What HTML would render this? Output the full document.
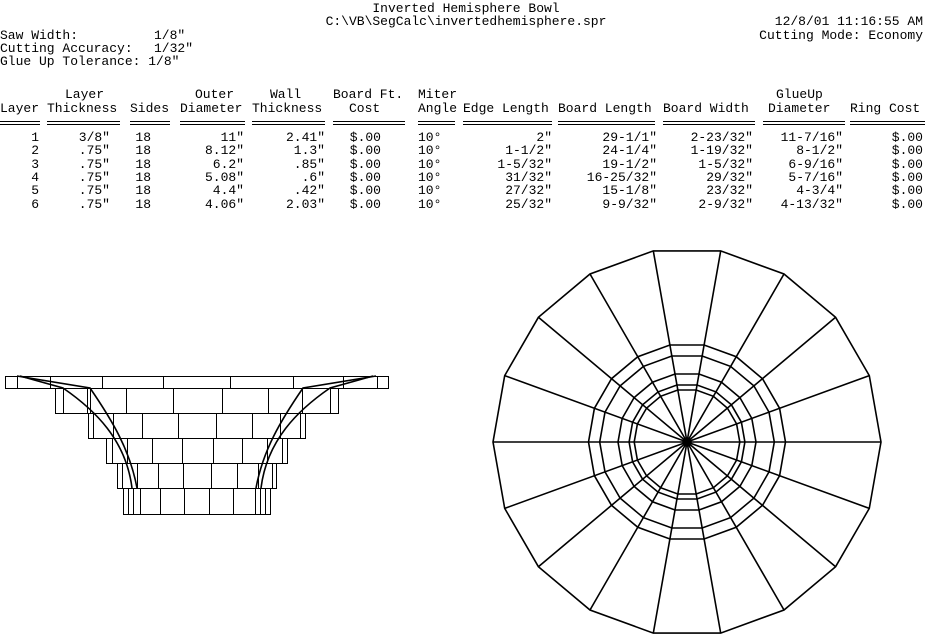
<!DOCTYPE html>
<html><head><meta charset="utf-8"><style>
html,body{margin:0;padding:0;background:#fff;width:932px;height:640px;overflow:hidden}
svg text{font-family:"Liberation Mono","DejaVu Sans Mono",monospace;font-size:13px;fill:#000}
</style></head><body>
<svg width="932" height="640" viewBox="0 0 932 640" xmlns="http://www.w3.org/2000/svg">
<g>
<text x="466" y="12" text-anchor="middle">Inverted Hemisphere Bowl</text>
<text x="466" y="25" text-anchor="middle">C:\VB\SegCalc\invertedhemisphere.spr</text>
<text x="923" y="25" text-anchor="end">12/8/01 11:16:55 AM</text>
<text x="923" y="39" text-anchor="end">Cutting Mode: Economy</text>
<text x="0" y="39">Saw Width:</text><text x="154" y="39">1/8"</text>
<text x="0" y="52">Cutting Accuracy:</text><text x="154" y="52">1/32"</text>
<text x="0" y="65">Glue Up Tolerance: 1/8"</text>

<text x="65" y="98">Layer</text>
<text x="195" y="98">Outer</text>
<text x="270" y="98">Wall</text>
<text x="333" y="98">Board Ft.</text>
<text x="418" y="98">Miter</text>
<text x="776" y="98">GlueUp</text>

<text x="0" y="112">Layer</text>
<text x="47" y="112">Thickness</text>
<text x="130" y="112">Sides</text>
<text x="180" y="112">Diameter</text>
<text x="252" y="112">Thickness</text>
<text x="349" y="112">Cost</text>
<text x="418" y="112">Angle</text>
<text x="463" y="112">Edge Length</text>
<text x="558" y="112">Board Length</text>
<text x="663" y="112">Board Width</text>
<text x="768" y="112">Diameter</text>
<text x="850" y="112">Ring Cost</text>
</g>
<g stroke="#000" stroke-width="1" fill="none">
<path d="M0 121.5H40M47 121.5H120M130 121.5H170M180 121.5H245M252 121.5H325M333 121.5H405M418 121.5H455M463 121.5H552M558 121.5H655M663 121.5H755M763 121.5H845M850 121.5H925"/>
<path d="M0 124.5H40M47 124.5H120M130 124.5H170M180 124.5H245M252 124.5H325M333 124.5H405M418 124.5H455M463 124.5H552M558 124.5H655M663 124.5H755M763 124.5H845M850 124.5H925"/>
</g>
<g text-anchor="end">
<text x="39" y="141">1</text><text x="110" y="141">3/8"</text><text x="151" y="141">18</text><text x="244" y="141">11"</text><text x="325" y="141">2.41"</text><text x="381" y="141">$.00</text><text x="552" y="141">2"</text><text x="657" y="141">29-1/1"</text><text x="753" y="141">2-23/32"</text><text x="843" y="141">11-7/16"</text><text x="923" y="141">$.00</text>
<text x="39" y="154">2</text><text x="110" y="154">.75"</text><text x="151" y="154">18</text><text x="244" y="154">8.12"</text><text x="325" y="154">1.3"</text><text x="381" y="154">$.00</text><text x="552" y="154">1-1/2"</text><text x="657" y="154">24-1/4"</text><text x="753" y="154">1-19/32"</text><text x="843" y="154">8-1/2"</text><text x="923" y="154">$.00</text>
<text x="39" y="168">3</text><text x="110" y="168">.75"</text><text x="151" y="168">18</text><text x="244" y="168">6.2"</text><text x="325" y="168">.85"</text><text x="381" y="168">$.00</text><text x="552" y="168">1-5/32"</text><text x="657" y="168">19-1/2"</text><text x="753" y="168">1-5/32"</text><text x="843" y="168">6-9/16"</text><text x="923" y="168">$.00</text>
<text x="39" y="181">4</text><text x="110" y="181">.75"</text><text x="151" y="181">18</text><text x="244" y="181">5.08"</text><text x="325" y="181">.6"</text><text x="381" y="181">$.00</text><text x="552" y="181">31/32"</text><text x="657" y="181">16-25/32"</text><text x="753" y="181">29/32"</text><text x="843" y="181">5-7/16"</text><text x="923" y="181">$.00</text>
<text x="39" y="194">5</text><text x="110" y="194">.75"</text><text x="151" y="194">18</text><text x="244" y="194">4.4"</text><text x="325" y="194">.42"</text><text x="381" y="194">$.00</text><text x="552" y="194">27/32"</text><text x="657" y="194">15-1/8"</text><text x="753" y="194">23/32"</text><text x="843" y="194">4-3/4"</text><text x="923" y="194">$.00</text>
<text x="39" y="208">6</text><text x="110" y="208">.75"</text><text x="151" y="208">18</text><text x="244" y="208">4.06"</text><text x="325" y="208">2.03"</text><text x="381" y="208">$.00</text><text x="552" y="208">25/32"</text><text x="657" y="208">9-9/32"</text><text x="753" y="208">2-9/32"</text><text x="843" y="208">4-13/32"</text><text x="923" y="208">$.00</text>
</g>
<g>
<text x="418" y="141">10°</text><text x="418" y="154">10°</text><text x="418" y="168">10°</text><text x="418" y="181">10°</text><text x="418" y="194">10°</text><text x="418" y="208">10°</text>
</g>

<!-- profile -->
<g stroke="#000" stroke-width="1" fill="none">
<rect x="5.5" y="376.5" width="383" height="12"/>
<rect x="55.5" y="388.5" width="283" height="25"/>
<rect x="88.5" y="413.5" width="217" height="25"/>
<rect x="106.5" y="438.5" width="181" height="25"/>
<rect x="117.5" y="463.5" width="159" height="25"/>
<rect x="123.5" y="488.5" width="147" height="26"/>
<path d="M17.5 376V388M50.5 376V388M102.5 376V388M163.5 376V388M230.5 376V388M293.5 376V388M343.5 376V388M377.5 376V388"/>
<path d="M63.5 388V413M87.5 388V413M90.5 388V413M126.5 388V413M173.5 388V413M222.5 388V413M268.5 388V413M302.5 388V413M330.5 388V413"/>
<path d="M93.5 413V438M113.5 413V438M142.5 413V438M178.5 413V438M216.5 413V438M252.5 413V438M280.5 413V438M300.5 413V438"/>
<path d="M112.5 438V463M127.5 438V463M152.5 438V463M182.5 438V463M213.5 438V463M242.5 438V463M267.5 438V463M282.5 438V463"/>
<path d="M122.5 463V488M137.5 463V488M158.5 463V488M183.5 463V488M211.5 463V488M237.5 463V488M258.5 463V488M272.5 463V488"/>
<path d="M128.5 488V514M133.5 488V514M140.5 488V514M160.5 488V514M184.5 488V514M209.5 488V514M233.5 488V514M255.5 488V514M260.5 488V514M265.5 488V514"/>
</g>
<g stroke="#000" stroke-width="1.6" fill="none">
<path d="M17 376L90 388C112 420 130 450 137 488"/>
<path d="M20 376L63 388C95 410 126 440 132 488"/>
<path d="M376 376L303 388C281 420 263 450 256 488"/>
<path d="M373 376L330 388C298 410 267 440 261 488"/>
</g>

<!-- rosette -->
<g stroke="#000" stroke-width="1.6" fill="none" id="ros"></g>
<script>
(function(){
var g=document.getElementById('ros'),cx=687,cy=442,ns='http://www.w3.org/2000/svg';
function poly(R){var p=[];for(var k=0;k<18;k++){var a=k*Math.PI/9;p.push((cx+R*Math.cos(a)).toFixed(1)+','+(cy-R*Math.sin(a)).toFixed(1));}
var e=document.createElementNS(ns,'polygon');e.setAttribute('points',p.join(' '));g.appendChild(e);}
[194,98.5,87.3,69,57.9,52.8].forEach(poly);
var d='';for(var k=0;k<18;k++){var a=k*Math.PI/9;d+='M'+cx+' '+cy+'L'+(cx+194*Math.cos(a)).toFixed(1)+' '+(cy-194*Math.sin(a)).toFixed(1);}
var p=document.createElementNS(ns,'path');p.setAttribute('d',d);g.appendChild(p);
})();
</script>
</svg>
</body></html>
